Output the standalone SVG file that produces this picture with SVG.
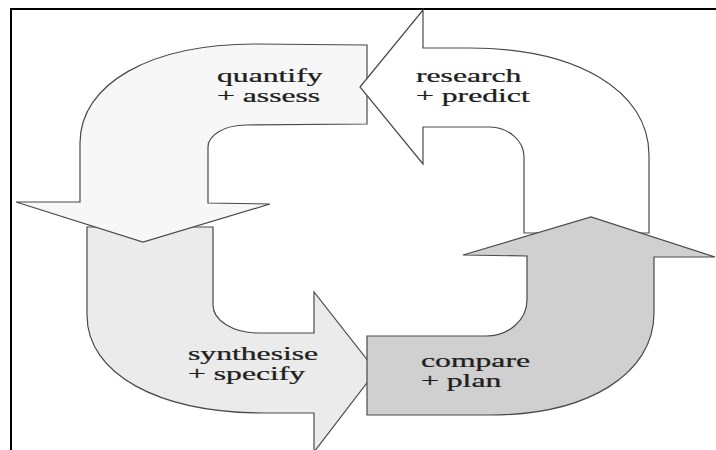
<svg xmlns="http://www.w3.org/2000/svg" width="716" height="450" viewBox="0 0 716 450">
<style>
.shape{stroke:#4a4a4a;stroke-width:1.2;stroke-linejoin:miter}
.lbl{font-family:'Liberation Serif','Times New Roman','DejaVu Serif',serif;font-size:18px;fill:#1e1e1e;stroke:#1e1e1e;stroke-width:0.25}
</style>
<rect width="716" height="450" fill="#fff"/>
<path d="M11,450 L11,9 L716,9" fill="none" stroke="#000" stroke-width="2"/>
<g id="connectors"/>
<g id="synthesise">
<path class="shape" fill="#ebebeb" d="M87,227 L213,227 L213,305 A45,28 0 0 0 258,333 L314,333 L314,292 L376,371 L314,452 L314,413 L265,413 C158,413 87,374 87,315 Z"/>
<text class="lbl" transform="translate(188,360) scale(1.76,1)">synthesise</text>
<text class="lbl" transform="translate(188,380) scale(1.76,1)">+ specify</text>
</g>
<g id="quantify">
<path class="shape" fill="#f7f7f7" d="M367,45 L367,124 L246,125 A38,22 0 0 0 208,147 L208,203 L270,204 L143,242 L16,202 L80,202 L80,143 C80,84 150,44 255,44 Z"/>
<text class="lbl" transform="translate(217,82) scale(1.76,1)">quantify</text>
<text class="lbl" transform="translate(217,102) scale(1.76,1)">+ assess</text>
</g>
<g id="research">
<path class="shape" fill="#ffffff" d="M360,87 L423,10 L423,48 L470,48 C577,48 649,91 649,155 L649,233 L524,233 L524,157 A35,30 0 0 0 490,127 L423,127 L423,164 Z"/>
<text class="lbl" transform="translate(416,82) scale(1.76,1)">research</text>
<text class="lbl" transform="translate(416,102) scale(1.76,1)">+ predict</text>
</g>
<g id="compare">
<path class="shape" fill="#d0d0d0" d="M367,336 L486,336 A41,36 0 0 0 527,300 L527,256 L463,255 L591,217 L715,257 L654,257 L654,313 C654,374 588,415 490,415 L367,415 Z"/>
<text class="lbl" transform="translate(421,367) scale(1.76,1)">compare</text>
<text class="lbl" transform="translate(421,387) scale(1.76,1)">+ plan</text>
</g>
</svg>
